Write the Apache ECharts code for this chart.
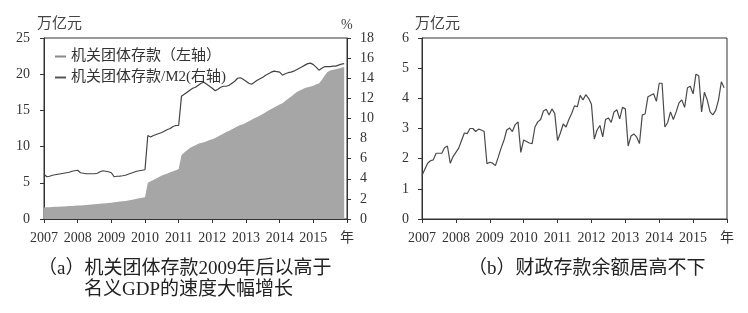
<!DOCTYPE html>
<html><head><meta charset="utf-8">
<script src="https://cdn.jsdelivr.net/npm/echarts@6/dist/echarts.min.js"></script>
<style>html,body{margin:0;padding:0;background:#fff}#c{width:748px;height:313px}</style>
</head><body><div id="c"></div>
<script>
// x-axis tick labels (one per year, last one is the unit "年")
const yearTicks = ['2007','2008','2009','2010','2011','2012','2013','2014','2015','年'];
const leftNames = ['机关团体存款（左轴）', '机关团体存款/M2(右轴)'];
// 机关团体存款, 万亿元, monthly 2007-01 .. 2015-12
const orgDeposits = [
  1.6,1.62,1.64,1.66,1.68,1.7,1.72,1.74,1.76,1.78,1.8,1.82,
  1.85,1.88,1.9,1.93,1.96,2.0,2.03,2.06,2.1,2.14,2.18,2.22,
  2.25,2.3,2.35,2.4,2.45,2.5,2.55,2.62,2.7,2.78,2.86,2.95,
  3.0,5.0,5.2,5.4,5.6,5.8,6.0,6.15,6.3,6.45,6.6,6.75,
  6.9,8.8,9.2,9.5,9.8,10.0,10.2,10.4,10.5,10.6,10.75,10.9,
  11.0,11.2,11.4,11.6,11.8,12.0,12.2,12.4,12.6,12.8,13.0,13.1,
  13.3,13.5,13.7,13.9,14.1,14.3,14.5,14.75,15.0,15.2,15.4,15.6,
  15.8,16.0,16.3,16.6,16.9,17.2,17.5,17.7,17.9,18.1,18.2,18.3,
  18.4,18.6,18.7,19.2,19.8,20.3,20.5,20.6,20.7,20.8,20.9,21.0
];
// 机关团体存款/M2, %, monthly
const orgRatio = [
  4.45,4.2,4.25,4.35,4.4,4.45,4.5,4.55,4.6,4.65,4.75,4.8,
  4.85,4.6,4.55,4.5,4.5,4.5,4.5,4.55,4.7,4.8,4.75,4.7,
  4.6,4.2,4.25,4.27,4.3,4.35,4.45,4.55,4.65,4.75,4.8,4.85,
  4.9,8.3,8.15,8.3,8.4,8.5,8.6,8.75,8.9,9.0,9.2,9.3,
  9.3,12.2,12.4,12.6,12.8,13.0,13.1,13.3,13.5,13.6,13.4,13.2,
  13.0,12.75,12.9,13.1,13.2,13.2,13.3,13.5,13.7,14.0,14.05,13.9,
  13.7,13.5,13.4,13.6,13.8,13.95,14.1,14.3,14.45,14.6,14.7,14.65,
  14.6,14.3,14.45,14.55,14.6,14.7,14.85,15.0,15.15,15.3,15.45,15.5,
  15.35,15.1,14.8,15.0,15.15,15.15,15.15,15.2,15.2,15.3,15.4,15.45
];
// 财政存款, 万亿元, monthly
const fiscalDeposits = [
  1.44,1.65,1.85,1.93,1.96,2.18,2.18,2.18,2.36,2.42,1.85,2.07,
  2.21,2.35,2.6,2.85,2.83,3.0,3.0,2.9,2.98,2.95,2.9,1.83,
  1.88,1.85,1.77,2.05,2.35,2.6,2.95,3.02,2.9,3.13,3.22,2.21,
  2.62,2.57,2.52,2.5,3.05,3.22,3.3,3.58,3.64,3.45,3.65,3.5,
  2.6,2.85,3.15,3.05,3.3,3.5,3.75,3.72,4.1,3.95,4.12,4.0,
  3.8,2.65,2.95,3.1,2.72,3.3,3.35,3.2,3.55,3.62,3.32,3.7,
  3.65,2.42,2.75,2.82,2.72,2.5,3.45,3.48,4.05,4.1,4.15,3.9,
  4.5,4.5,3.05,3.2,3.55,3.3,3.55,3.85,3.95,3.7,4.35,4.4,
  4.15,4.8,4.75,3.55,4.2,3.95,3.55,3.45,3.6,3.95,4.55,4.35
];

const serif = '"Liberation Serif","Times New Roman","DejaVu Serif",serif,"Noto Sans CJK SC"';
const toPairs = arr => arr.map((v, i) => [i, v]);

function xAxis(gridIndex) {
  return {
    type: 'value', gridIndex, min: 0, max: 108, interval: 12,
    axisLine: { show: true, lineStyle: { color: '#333', width: 1 } },
    axisTick: { show: true, length: 4, lineStyle: { color: '#333' } },
    axisLabel: { margin: 12, color: '#333', fontFamily: serif, fontSize: 14,
      formatter: v => yearTicks[Math.round(v / 12)] },
    splitLine: { show: false }
  };
}
function yAxis(gridIndex, max, interval, position, margin) {
  return {
    type: 'value', gridIndex, min: 0, max, interval, position,
    axisLine: { show: true, lineStyle: { color: '#333', width: 1 } },
    axisTick: { show: true, length: 4, lineStyle: { color: '#333' } },
    axisLabel: { margin, color: '#333', fontFamily: serif, fontSize: 14 },
    splitLine: { show: false }
  };
}

const chart = echarts.init(document.getElementById('c'));
chart.setOption({
  animation: false,
  backgroundColor: '#fff',
  grid: [
    { left: 44, right: 401, top: 38, bottom: 94, show: true, borderColor: '#333', borderWidth: 1 },
    { left: 422, right: 21, top: 38, bottom: 94, show: true, borderColor: '#333', borderWidth: 1 }
  ],
  xAxis: [xAxis(0), xAxis(1)],
  yAxis: [yAxis(0, 25, 5, 'left', 14), yAxis(0, 18, 2, 'right', 13), yAxis(1, 6, 1, 'left', 13)],
  legend: {
    orient: 'vertical', left: 50, top: 44, itemGap: 6, itemWidth: 11, itemHeight: 2,
    textStyle: { fontFamily: serif, fontSize: 15, color: '#333' },
    data: [
      { name: leftNames[0], icon: 'rect', itemStyle: { color: '#8a8a8a' } },
      { name: leftNames[1], icon: 'rect', itemStyle: { color: '#555' } }
    ]
  },
  series: [
    { name: leftNames[0], type: 'line', xAxisIndex: 0, yAxisIndex: 0, data: toPairs(orgDeposits),
      showSymbol: false, lineStyle: { width: 0 }, itemStyle: { color: '#a6a6a6' },
      areaStyle: { color: '#a6a6a6', opacity: 1 } },
    { name: leftNames[1], type: 'line', xAxisIndex: 0, yAxisIndex: 1, data: toPairs(orgRatio),
      showSymbol: false, lineStyle: { width: 1.2, color: '#444' }, itemStyle: { color: '#444' } },
    { name: '财政存款', type: 'line', xAxisIndex: 1, yAxisIndex: 2, data: toPairs(fiscalDeposits),
      showSymbol: false, lineStyle: { width: 1.2, color: '#4a4a4a' }, itemStyle: { color: '#4a4a4a' } }
  ],
  graphic: [
    { type: 'text', left: 37, top: 17, style: { text: '万亿元', fontFamily: serif, fontSize: 15, fill: '#444' } },
    { type: 'text', left: 341, top: 18, style: { text: '%', fontFamily: serif, fontSize: 14, fill: '#444' } },
    { type: 'text', left: 415, top: 17, style: { text: '万亿元', fontFamily: serif, fontSize: 15, fill: '#444' } },
    { type: 'text', left: 38, top: 260, style: { text: '（a）机关团体存款2009年后以高于', fontFamily: serif, fontSize: 19, fill: '#222' } },
    { type: 'text', left: 84, top: 281, style: { text: '名义GDP的速度大幅增长', fontFamily: serif, fontSize: 19, fill: '#222' } },
    { type: 'text', left: 468, top: 260, style: { text: '（b）财政存款余额居高不下', fontFamily: serif, fontSize: 19, fill: '#222' } }
  ]
});
</script>
</body></html>
